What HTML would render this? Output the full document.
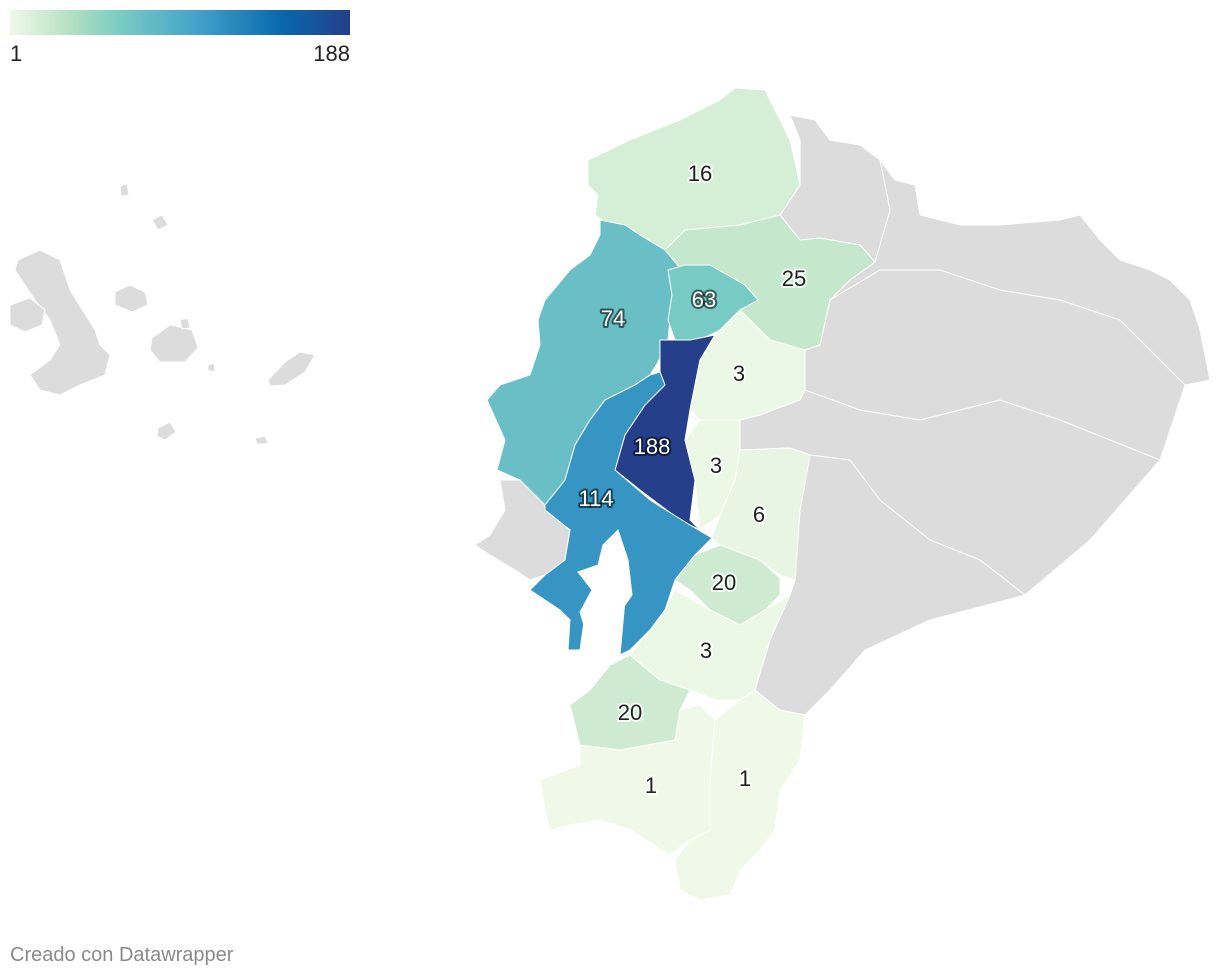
<!DOCTYPE html>
<html><head><meta charset="utf-8">
<style>
body{margin:0;background:#fff;width:1220px;height:978px;overflow:hidden;font-family:"Liberation Sans",sans-serif;}
svg{position:absolute;left:0;top:0;}
.lbl{font-size:22px;text-anchor:middle;dominant-baseline:middle;paint-order:stroke;stroke-width:4px;stroke-linejoin:round;}
</style></head>
<body>
<svg id="map" width="1220" height="978">
  <defs>
    <linearGradient id="grad" x1="0" x2="1" y1="0" y2="0">
      <stop offset="0" stop-color="#f0f9e8"/>
      <stop offset="0.18" stop-color="#b3e0c0"/>
      <stop offset="0.32" stop-color="#7bccc4"/>
      <stop offset="0.55" stop-color="#43a2ca"/>
      <stop offset="0.8" stop-color="#0868ac"/>
      <stop offset="1" stop-color="#253f8a"/>
    </linearGradient>
  </defs>
  <rect x="10" y="10" width="340" height="25" fill="url(#grad)"/>
  <text x="10" y="61" font-size="22" fill="#222">1</text>
  <text x="350" y="61" font-size="22" fill="#222" text-anchor="end">188</text>
  <g id="gray" fill="#dcdcdc" stroke="#fff" stroke-width="1"></g>
  <g fill="none" stroke="#fff" stroke-width="1">
    <polyline points="830,300 880,270 940,270 1000,290 1060,300 1120,320 1185,385"/>
    <polyline points="805,390 860,410 920,420 1000,400 1060,420 1160,460"/>
    <polyline points="810,455 850,460 880,500 930,540 980,560 1025,595"/>
    <polyline points="880,160 890,210 875,262"/>
  </g>
  <g id="provs" stroke="#fff" stroke-width="1"></g>
  <g id="labels"></g>
  <text x="10" y="961" font-size="20" fill="#8a8a8a">Creado con Datawrapper</text>
</svg>
<script>
const names=["esmeraldas","imbabura","manabi","santo-domingo","cotopaxi-west","guayas","pichincha","cotopaxi","chimborazo","canar","azuay","el-oro","loja","zamora"];
const values=[16,25,74,63,188,114,3,3,6,20,3,20,1,1];
const minV=1,maxV=188;
const shapes=[
"588,160 630,140 680,120 720,100 735,88 765,90 775,110 790,140 800,185 780,215 740,225 690,230 665,250 640,235 610,225 595,215 598,195 588,185",
"685,230 740,225 780,215 800,240 820,238 860,245 875,262 850,280 830,300 820,345 805,350 770,340 740,310 710,280 680,270 665,250",
"600,220 625,225 640,235 665,250 680,268 675,290 670,320 668,340 658,362 650,375 635,385 605,400 590,420 575,445 565,480 545,505 520,480 497,470 505,440 487,400 500,385 530,375 540,345 538,320 545,300 570,270 590,255 600,235",
"668,270 685,265 710,265 745,285 758,300 740,310 720,330 700,340 675,340 668,320 672,295",
"660,340 690,340 715,335 700,360 690,410 685,440 695,480 690,520 700,530 680,520 640,490 615,470 625,435 645,405 665,385 660,372",
"660,372 665,385 645,405 625,435 615,470 650,500 690,525 712,538 695,555 675,580 665,610 650,630 630,650 620,655 625,600 615,580 600,590 585,615 580,650 568,650 570,620 560,610 545,600 530,590 545,575 565,560 570,530 545,510 545,505 565,480 575,445 590,420 605,400 635,385 650,375",
"715,335 740,310 770,340 805,350 805,390 800,400 760,415 740,420 700,420 690,410 700,360",
"700,420 740,420 740,450 735,480 720,515 700,530 695,480 685,440",
"740,450 790,448 810,455 800,510 795,580 780,575 760,560 720,545 712,538 720,515 735,480",
"695,555 720,545 760,560 780,578 780,595 765,610 740,625 710,610 690,590 675,580",
"665,610 675,590 710,610 740,625 765,610 790,595 770,640 755,690 740,700 715,700 690,690 660,680 640,670 630,655 650,630",
"570,705 590,690 610,665 630,655 660,680 690,690 680,710 675,740 650,745 620,750 580,745 575,725",
"540,780 580,765 580,745 620,750 675,740 680,710 700,705 715,720 710,780 710,830 690,840 670,855 630,830 600,820 570,825 550,830 545,810",
"715,720 740,700 755,690 780,710 805,715 800,760 780,790 775,830 760,850 740,870 730,895 700,900 680,890 675,860 690,840 710,830 710,780"];
const labelPos=[[700,175],[794,280],[613,320],[704,301],[652,448],[596,500],[739,375],[716,467],[759,516],[724,584],[706,652],[630,714],[651,787],[745,780]];
const stops=[[0,[240,249,232]],[0.18,[179,224,192]],[0.32,[123,204,196]],[0.55,[67,162,202]],[0.8,[8,104,172]],[1,[37,63,138]]];
function color(v){const t=(v-minV)/(maxV-minV);for(let i=1;i<stops.length;i++){if(t<=stops[i][0]){const a=stops[i-1],b=stops[i],f=(t-a[0])/(b[0]-a[0]);const c=a[1].map((x,k)=>Math.round(x+(b[1][k]-x)*f));return `rgb(${c})`;}}return "rgb(37,63,138)";}
const NS="http://www.w3.org/2000/svg";
const gray=[
["amazon-region","790,115 800,140 800,185 780,215 800,240 860,245 875,262 850,280 830,300 820,345 805,350 805,390 800,400 760,415 740,420 740,450 790,448 810,455 800,510 795,580 790,595 770,640 755,690 740,700 780,710 805,715 830,690 865,650 930,620 1025,595 1090,540 1160,460 1185,385 1210,380 1200,330 1190,300 1170,280 1150,270 1120,260 1100,240 1080,215 1060,220 1000,225 960,225 920,215 915,185 895,180 880,160 860,145 830,140 815,120"],
["santa-elena","500,480 520,480 545,505 570,530 565,560 545,575 530,580 515,570 490,555 475,545 490,535 505,510"],
["isabela-island","18,260 40,250 60,260 70,290 95,330 100,345 110,355 105,375 80,385 60,395 40,390 30,375 50,360 60,345 50,320 35,300 15,270"],
["fernandina-island","10,305 30,298 45,310 42,325 25,332 10,325"],
["santiago-island","115,292 130,285 145,292 148,305 132,312 115,305"],
["santa-cruz-island","152,338 170,325 192,330 198,348 185,362 160,362 150,350"],
["san-cristobal-island","268,380 285,362 300,352 315,355 305,372 285,385 270,386"],
["pinta-island","120,186 127,184 129,195 121,196"],
["marchena-island","152,220 162,215 168,225 158,230"],
["espanola-island","158,428 170,422 176,432 165,440 157,436"],
["floreana-island","255,438 265,436 268,444 257,444"],
["pinzon-island","180,320 188,318 190,328 182,329"],
["small-island","208,365 214,363 215,372 208,371"]];
const gg=document.getElementById("gray");
gray.forEach(g=>{const p=document.createElementNS(NS,"polygon");p.setAttribute("points",g[1]);


gg.appendChild(p);});
const pg=document.getElementById("provs"),lg=document.getElementById("labels");
values.forEach((v,i)=>{const p=document.createElementNS(NS,"polygon");p.setAttribute("points",shapes[i]);p.setAttribute("fill",color(v));


pg.appendChild(p);
const t=document.createElementNS(NS,"text");t.setAttribute("x",labelPos[i][0]);t.setAttribute("y",labelPos[i][1]);t.setAttribute("class","lbl");
const dark=v>50;t.setAttribute("fill",dark?"#fff":"#222");t.setAttribute("stroke",dark?"rgba(0,0,0,0.55)":"rgba(255,255,255,0.8)");t.textContent=v;


lg.appendChild(t);});
const w=document.createElementNS(NS,"polygon");w.setAttribute("points","603,545 618,530 628,560 632,595 625,605 610,628 590,645 580,612 592,590 578,572 598,565");w.setAttribute("fill","#fff");


pg.appendChild(w);
</script>
</body></html>
